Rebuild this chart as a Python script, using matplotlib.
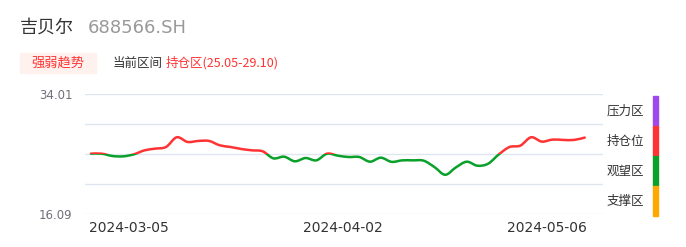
import numpy as np
import matplotlib.pyplot as plt
from matplotlib.path import Path
from matplotlib.patches import PathPatch, Rectangle

plt.rcParams['font.family'] = ['Noto Sans CJK SC', 'DejaVu Sans']

# 数据
dates = ['2024-02-29', '2024-03-01', '2024-03-04', '2024-03-05', '2024-03-06', '2024-03-07',
         '2024-03-08', '2024-03-11', '2024-03-12', '2024-03-13', '2024-03-14', '2024-03-15',
         '2024-03-18', '2024-03-19', '2024-03-20', '2024-03-21', '2024-03-22', '2024-03-25',
         '2024-03-26', '2024-03-27', '2024-03-28', '2024-03-29', '2024-04-01', '2024-04-02',
         '2024-04-03', '2024-04-08', '2024-04-09', '2024-04-10', '2024-04-11', '2024-04-12',
         '2024-04-15', '2024-04-16', '2024-04-17', '2024-04-18', '2024-04-19', '2024-04-22',
         '2024-04-23', '2024-04-24', '2024-04-25', '2024-04-26', '2024-04-29', '2024-04-30',
         '2024-05-06', '2024-05-07', '2024-05-08', '2024-05-09', '2024-05-10']
prices = [25.10, 25.10, 24.75, 24.70, 25.00, 25.60, 25.85, 26.10, 27.55, 26.85,
          27.00, 27.00, 26.35, 26.10, 25.80, 25.60, 25.45, 24.40, 24.65, 23.96,
          24.45, 24.10, 25.10, 24.80, 24.60, 24.60, 23.90, 24.50, 23.88, 24.10,
          24.10, 24.05, 23.10, 21.95, 23.05, 23.90, 23.30, 23.60, 25.00, 26.10,
          26.30, 27.55, 26.90, 27.20, 27.15, 27.15, 27.50]
y_min, y_max = 16.09, 34.01
hold_low = 25.05
tick_dates = ['2024-03-05', '2024-04-02', '2024-05-06']
zones = ['压力区', '持仓位', '观望区', '支撑区']
zone_colors = ['#9d48ee', '#ff3333', '#0aa02a', '#ffa800']

RED = '#ff3333'
GREEN = '#0aa02a'

fig = plt.figure(figsize=(6.86, 2.47), dpi=100)
ax = fig.add_axes([85 / 686, 1 - 214 / 247, 518 / 686, 120 / 247])

x = np.arange(len(prices))
pts = np.column_stack([x, prices])

# 平滑曲线 (三次贝塞尔)
verts = [pts[0]]
codes = [Path.MOVETO]
n = len(pts)
for i in range(n - 1):
    p0 = pts[max(i - 1, 0)]
    p1 = pts[i]
    p2 = pts[i + 1]
    p3 = pts[min(i + 2, n - 1)]
    c1 = p1 + (p2 - p0) / 6
    c2 = p2 - (p3 - p1) / 6
    verts += [c1, c2, p2]
    codes += [Path.CURVE4] * 3
path = Path(verts, codes)

for color, lo, hi in [(RED, hold_low, y_max + 5), (GREEN, y_min - 5, hold_low)]:
    patch = PathPatch(path, fill=False, edgecolor=color, lw=1.8, zorder=3,
                      capstyle='round', joinstyle='round')
    ax.add_patch(patch)
    clip = Rectangle((-5, lo), n + 10, hi - lo, transform=ax.transData)
    patch.set_clip_path(clip)

ax.set_xlim(-0.55, 47.7)
ax.set_ylim(y_min, y_max)
grid = np.linspace(y_min, y_max, 5)
for g in grid:
    ax.axhline(g, color='#e0e6f1', lw=1, zorder=1)
for s in ax.spines.values():
    s.set_visible(False)
ax.set_yticks([y_min, y_max])
ax.set_yticklabels(['16.09', '34.01'])
ax.tick_params(axis='y', length=0, pad=9, labelsize=8.5, labelcolor='#6e7079')
ax.set_xticks([dates.index(d) + 0.5 for d in tick_dates])
ax.set_xticklabels(tick_dates)
ax.tick_params(axis='x', length=0, pad=5, labelsize=10, labelcolor='#333333')
for lab in ax.get_xticklabels() + ax.get_yticklabels():
    lab.set_family('DejaVu Sans')

# 右侧色条
for i, (z, c) in enumerate(zip(zones, zone_colors)):
    top = 96 + i * 30
    fig.patches.append(Rectangle((653 / 686, 1 - (top + 30) / 247), 5 / 686, 30 / 247,
                                 transform=fig.transFigure, color=c))
    fig.text(607 / 686, 1 - (top + 15) / 247, z, fontsize=9, color='#333333',
             ha='left', va='center')

# 标题
fig.text(20 / 686, 1 - 28 / 247, '吉贝尔', fontsize=13, color='#333333', va='center')
fig.text(88 / 686, 1 - 28 / 247, '688566.SH', fontsize=13, color='#999999', va='center',
         family='DejaVu Sans')
fig.patches.append(Rectangle((20 / 686, 1 - 73 / 247), 76 / 686, 20 / 247,
                             transform=fig.transFigure, color='#fff1ee'))
fig.text(58 / 686, 1 - 63 / 247, '强弱趋势', fontsize=9.5, color=RED, ha='center', va='center')
fig.text(113 / 686, 1 - 63 / 247, '当前区间', fontsize=9, color='#333333', va='center')
fig.text(166 / 686, 1 - 63 / 247, '持仓区(25.05-29.10)', fontsize=9, color=RED, va='center')

fig.savefig('out.png', dpi=100)
